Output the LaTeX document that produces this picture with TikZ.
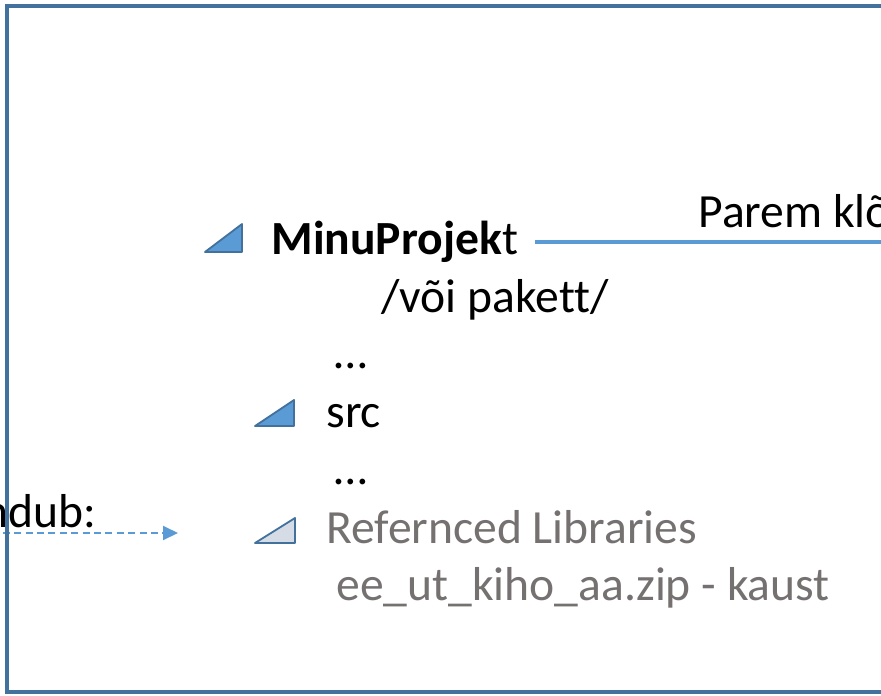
\documentclass[tikz,border=0pt]{standalone}
\usepackage{fontspec}
\setmainfont[Ligatures=NoCommon]{Carlito}
\usetikzlibrary{arrows.meta}
\definecolor{framec}{HTML}{41719C}
\definecolor{linec}{HTML}{5B9BD5}
\definecolor{libc}{HTML}{D6DCE5}
\definecolor{greyc}{HTML}{767171}
\begin{document}
\begin{tikzpicture}[x=0.5pt,y=-0.5pt,
    every node/.style={inner sep=0pt,font=\fontsize{23.8}{28}\selectfont},
    treetri/.style={draw=framec,line width=0.9pt,line join=round,fill=linec},
    greytext/.style={text=greyc}]
  \useasboundingbox (0,0) rectangle (881,695);
  \clip (0,0) rectangle (881,695);
  \fill[white] (0,0) rectangle (881,695);
  % tree entries
  \draw
    (271,254) node[anchor=base west] (proj){\textbf{MinuProjek}t}
    (381,312) node[anchor=base west] (pkg){/või pakett/}
    (334,368) node[anchor=base west] (dots1){\dots}
    (326,427) node[anchor=base west] (src){src}
    (334,484) node[anchor=base west] (dots2){\dots}
    (326,543) node[anchor=base west,greytext] (libs){Refernced Libraries}
    (336,600) node[anchor=base west,greytext] (zip){ee\_ut\_kiho\_aa.zip - kaust}
    (698,227) node[anchor=base west] (click){Parem klõ}
    (97,527) node[anchor=base east] (added){ndub:};
  % triangles
  \draw[treetri] (205,252) -- (242,252) -- (242,224) -- cycle;
  \draw[treetri] (255,426) -- (294,426) -- (294,400) -- cycle;
  \draw[treetri,fill=libc] (255,543) -- (295,543) -- (295,518) -- cycle;
  % connectors
  \coordinate (clickend) at (900,242);
  \coordinate (addedstart) at (-20,533);
  \coordinate (addedtip) at (178,533);
  \begin{scope}[draw=linec]
    \draw[line width=1.6pt] (proj.east |- 0,242) ++(17,0) coordinate (projline) -- (clickend);
    \draw[line width=1pt,dash pattern=on 3.5pt off 2.2pt,
      -{Triangle[length=7.5pt,width=7pt,fill=linec]}] (addedstart) -- (addedtip);
  \end{scope}
  % frame
  \draw[framec,line width=1.6pt] (7,6) rectangle (920,692);
\end{tikzpicture}
\end{document}
